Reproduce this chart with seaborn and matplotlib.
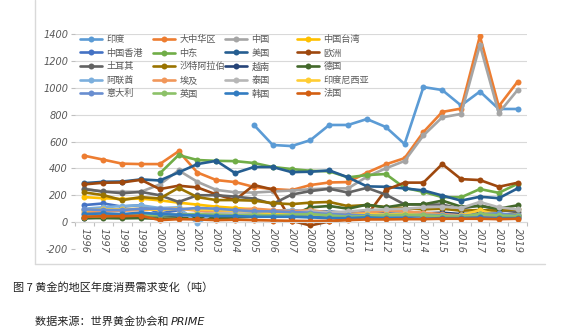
import numpy as np
import pandas as pd
import seaborn as sns
import matplotlib
matplotlib.use("Agg")
import matplotlib.pyplot as plt
from matplotlib.lines import Line2D
from matplotlib.legend import Legend

nan = np.nan

years = list(range(1996, 2020))

regions = ["印度", "大中华区", "中国", "中国台湾", "中国香港", "中东", "美国", "欧洲",
           "土耳其", "沙特阿拉伯", "越南", "德国", "阿联酋", "埃及", "泰国", "印度尼西亚",
           "意大利", "英国", "韩国", "法国"]

india = [nan] * 9 + [723, 574, 566, 610, 723, 723, 767, 708, 581, 1005, 983, 868, 972, 842, 842]
greater_china = [494, 465, 435, 432, 432, 527, 369, 313, 298, 262, 246, 238, 276, 295, 298, 368,
                 430, 476, 670, 820, 845, 1385, 862, 1045]
china = [250, 226, 226, 226, 280, 385, 300, 240, 222, 220, 228, 235, 245, 251, 251, 338,
         400, 455, 645, 780, 805, 1318, 812, 983]
taiwan = [186, 178, 172, 175, 162, 145, 130, 115, 105, 95, 85, 75, 65, 58, 52, 55,
          48, 55, 45, 52, 45, 60, 42, 42]
hongkong = [127, 139, 115, 127, 64, 89, 20, 75, 60, 55, 50, 45, 45, 40, 45, 50,
            55, 50, 45, 40, 35, 40, 38, 35]
middle_east = [nan] * 4 + [362, 499, 462, 456, 454, 440, 410, 395, 382, 378, 333, 350,
                           358, 255, 225, 186, 185, 246, 218, 285]
usa = [290, 300, 302, 318, 310, 370, 432, 456, 365, 410, 410, 372, 375, 385, 333, 266,
       263, 251, 236, 198, 160, 189, 178, 251]
europe = [281, 293, 295, 315, 246, 271, 258, 206, 164, 276, 243, 10, -25, 5, 20, 50,
          240, 294, 294, 432, 320, 313, 263, 293]
turkey = [245, 228, 215, 225, 200, 150, 200, 200, 190, 175, 135, 205, 231, 248, 220, 255,
          205, 132, 132, 130, 100, 125, 90, 75]
saudi = [221, 201, 164, 186, 176, 255, 186, 164, 164, 160, 141, 134, 145, 150, 119, 127,
         112, 105, 95, 100, 85, 90, 85, 95]
vietnam = [30, 35, 35, 40, 45, 50, 55, 60, 62, 65, 70, 75, 80, 78, 70, 80,
           75, 80, 65, 70, 60, 65, 60, 55]
germany = [30, 30, 28, 30, 25, 28, 30, 30, 35, 40, 45, 50, 110, 120, 100, 130,
           110, 132, 132, 160, 115, 120, 100, 125]
uae = [100, 110, 120, 125, 105, 110, -10, 80, 85, 90, 85, 90, 80, 75, 60, 65,
       60, 70, 60, 55, 50, 55, 50, 45]
egypt = [75, 80, 85, 90, 95, 100, 85, 70, 90, 100, 90, 80, 90, 70, 60, 70,
         85, 80, 70, 60, 50, 45, 40, 35]
thailand = [60, 55, 55, 65, 60, 60, 60, 65, 70, 70, 60, 70, 80, 70, 80, 90,
            95, 100, 110, 115, 105, 150, 110, 95]
indonesia = [90, 95, 95, 100, 90, 100, 95, 90, 85, 80, 60, 65, 60, 50, 55, 60,
             55, 60, 55, 50, 50, 89, 50, 55]
italy = [95, 90, 90, 100, 100, 95, 105, 100, 90, 80, 80, 75, 70, 60, 55, 50,
         45, 50, 55, 50, 45, 60, 65, 50]
uk = [40, 45, 50, 50, 50, 55, 60, 55, 50, 55, 50, 55, 60, 50, 40, 45,
      50, 55, 50, 45, 40, 60, 50, 45]
korea = [60, 65, 60, 70, 60, 55, 50, 45, 45, 40, 40, 40, 35, 30, 30, 35,
         30, 30, 25, 30, 30, 35, 30, 30]
france = [40, 44, 44, 48, 15, 22, 20, 15, 18, 15, 12, 10, 8, 10, 15, 20,
          20, 22, 22, 25, 25, 25, 22, 25]

series = [india, greater_china, china, taiwan, hongkong, middle_east, usa, europe,
          turkey, saudi, vietnam, germany, uae, egypt, thailand, indonesia,
          italy, uk, korea, france]

colors = ["#5B9BD5", "#ED7D31", "#A5A5A5", "#FFC000", "#4472C4", "#70AD47",
          "#255E91", "#9E480E", "#636363", "#997300", "#264478", "#43682B",
          "#7CAFDD", "#F1975A", "#B7B7B7", "#FFCD33", "#698ED0", "#8CC168",
          "#327CC1", "#D35F12"]

y_ticks = list(range(-200, 1401, 200))

# long-form table for seaborn
frames = []
for name, vals in zip(regions, series):
    frames.append(pd.DataFrame({"year": years, "tons": vals, "region": name}))
df = pd.concat(frames, ignore_index=True).dropna()

sns.set_theme(style="white")
plt.rcParams["font.family"] = ["Noto Sans CJK SC", "DejaVu Sans"]

W, H = 573, 329
fig = plt.figure(figsize=(W / 100, H / 100), dpi=100)
fig.patch.set_facecolor("white")
ax = fig.add_axes([75 / W, 1 - 249 / H, 452 / W, 215 / H])

palette = dict(zip(regions, colors))
sns.lineplot(data=df, x="year", y="tons", hue="region", hue_order=regions,
             palette=palette, marker="o", markersize=4.3, markeredgewidth=0,
             linewidth=1.9, legend=False, ax=ax, sort=True, estimator=None)

ax.set_xlim(1995.5, 2019.5)
ax.set_ylim(-200, 1400)
ax.set_yticks(y_ticks)
ax.set_yticklabels([str(v) for v in y_ticks])
ax.yaxis.grid(True, color="#D9D9D9", linewidth=0.8)
ax.set_axisbelow(True)
ax.set_xlabel("")
ax.set_ylabel("")

for side in ["top", "right", "left"]:
    ax.spines[side].set_visible(False)
ax.spines["bottom"].set_position(("data", 0))
ax.spines["bottom"].set_color("#D9D9D9")
ax.spines["bottom"].set_linewidth(0.8)

ax.set_xticks(years)
ax.set_xticklabels([str(y) for y in years], rotation=-90, va="top", ha="center")
ax.set_xticks([y + 0.5 for y in [1995] + years], minor=True)
ax.tick_params(axis="x", which="major", length=0, pad=4)
ax.tick_params(axis="x", which="minor", length=3, color="#BFBFBF", width=0.8,
               direction="out", bottom=True)
ax.tick_params(axis="y", which="major", length=3, color="#BFBFBF", width=0.8,
               direction="out", left=True, pad=2)

for lab in ax.get_xticklabels() + ax.get_yticklabels():
    lab.set_fontfamily("DejaVu Sans")
    lab.set_fontstyle("italic")
    lab.set_fontsize(7)
    lab.set_color("#595959")

# four fixed-width legend columns, filled row by row
handles = [Line2D([0], [0], color=c, lw=1.9, marker="o", markersize=4.3,
                  markeredgewidth=0) for c in colors]
col_x = [80, 153, 225, 297]
for ci, x0 in enumerate(col_x):
    idx = list(range(ci, 20, 4))
    leg = Legend(ax, [handles[i] for i in idx], [regions[i] for i in idx],
                 loc="upper left", bbox_to_anchor=(x0 / W, 1 - 35 / H),
                 bbox_transform=fig.transFigure, frameon=False,
                 borderpad=0, borderaxespad=0, handlelength=2.4,
                 handletextpad=0.5, labelspacing=0.5,
                 prop={"family": ["Noto Sans CJK SC", "DejaVu Sans"], "size": 6.6})
    for t in leg.get_texts():
        t.set_color("#595959")
    ax.add_artist(leg)

# chart-area border on the left and bottom
fig.add_artist(Line2D([35 / W, 35 / W], [1.0, 1 - 264 / H], transform=fig.transFigure,
                      color="#D9D9D9", lw=1.0))
fig.add_artist(Line2D([35 / W, 545 / W], [1 - 264 / H, 1 - 264 / H],
                      transform=fig.transFigure, color="#D9D9D9", lw=1.0))

# captions
fig.text(13 / W, 1 - 287 / H, "图 7 黄金的地区年度消费需求变化（吨）", fontsize=8,
         color="#222222", va="center", ha="left",
         family=["Noto Sans CJK SC", "DejaVu Sans"])
src = fig.text(35 / W, 1 - 322 / H, "数据来源：世界黄金协会和 ", fontsize=8,
               color="#222222", va="center", ha="left",
               family=["Noto Sans CJK SC", "DejaVu Sans"])
fig.canvas.draw()
bb = src.get_window_extent(renderer=fig.canvas.get_renderer())
fig.text(bb.x1 / W, 1 - 322 / H, "PRIME", fontsize=8, color="#222222",
         va="center", ha="left", family="DejaVu Sans", style="italic")

fig.savefig("out.png", dpi=100, facecolor="white")
